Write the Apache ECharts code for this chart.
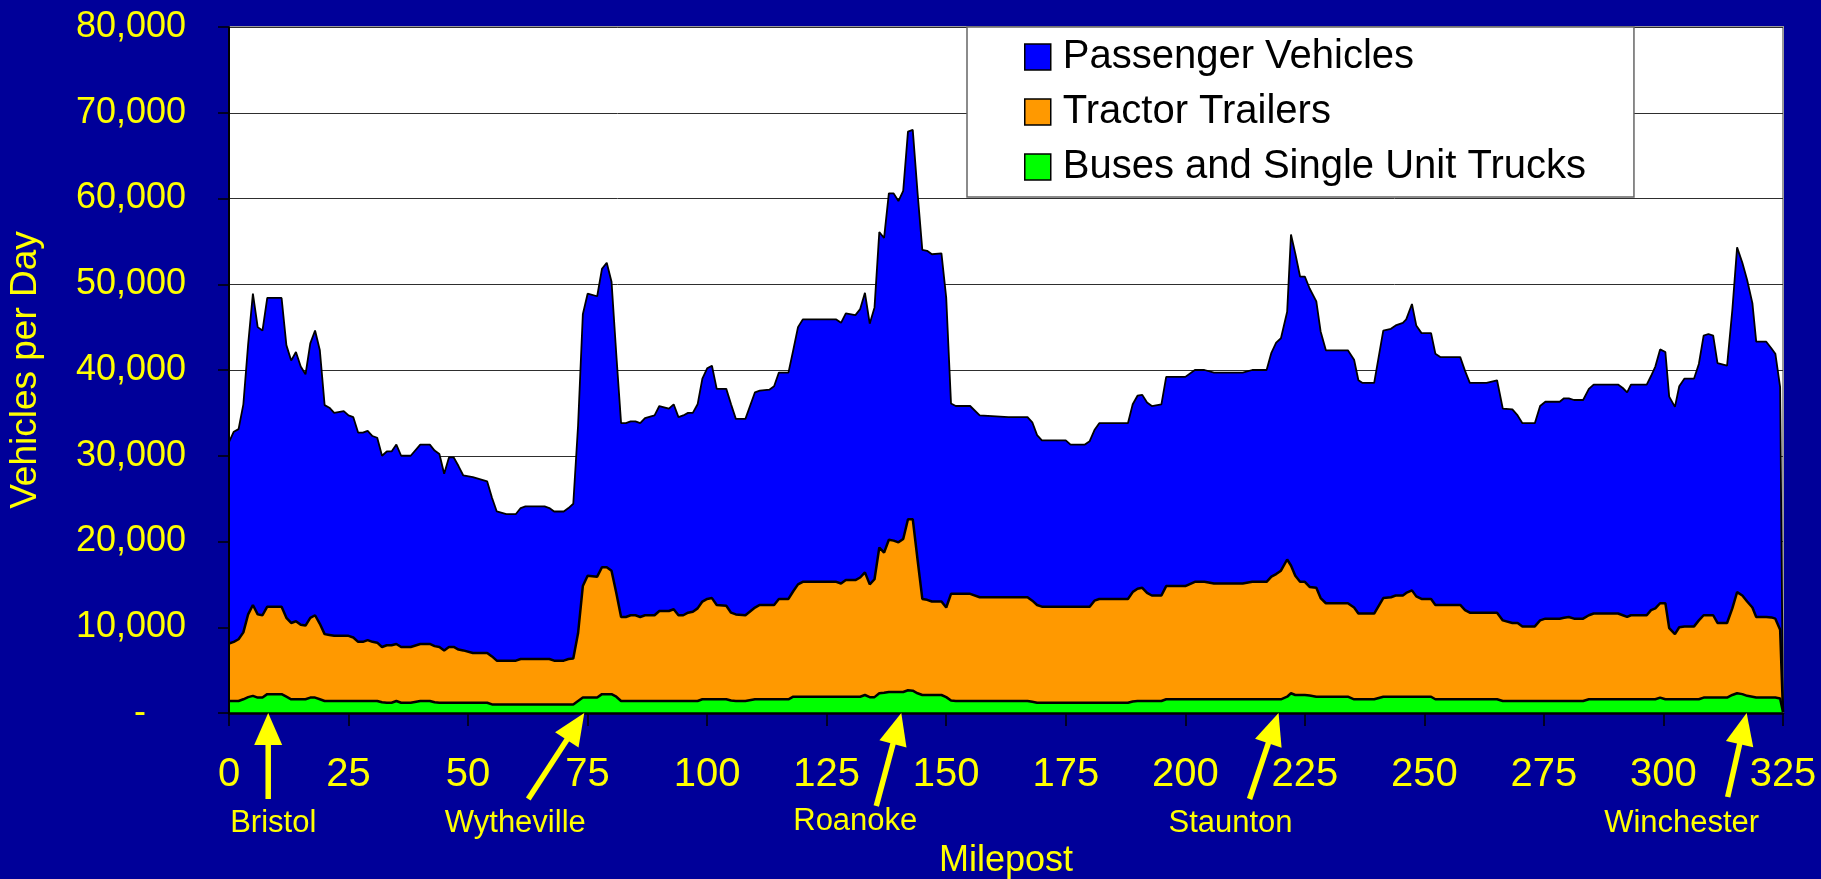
<!DOCTYPE html>
<html>
<head>
<meta charset="utf-8">
<script src="https://cdn.jsdelivr.net/npm/echarts/dist/echarts.min.js"></script>
<style>
html,body{margin:0;padding:0;background:#000099;}
#chart{width:1821px;height:879px;}
</style>
</head>
<body>
<div id="chart"></div>
<script>
// ---------------- DATA ----------------
const mileposts = [
  0,1,2,3,4,5,6,7,8,11,
  12,13,14,15,16,17,18,19,20,21,
  22,24,25,26,27,28,29,30,31,32,
  33,34,35,36,38,40,42,43,44,45,
  46,47,48,49,51,54,55,56,58,60,
  61,62,66,67,68,70,71,72,73,74,
  75,77,78,79,80,81,82,83,84,85,
  86,87,89,90,92,93,94,95,96,97,
  98,99,100,101,102,104,105,106,108,110,
  111,113,114,115,117,118,119,120,127,128,
  129,131,132,133,134,135,136,137,138,139,
  140,141,142,143,144,145,146,147,149,150,
  151,152,155,157,163,167,168,169,170,175,
  176,179,180,181,182,188,189,190,191,192,
  193,195,196,200,202,204,206,212,214,217,
  218,219,220,221.3,222.1,223,224,225,226,227.4,
  228.3,229.4,234,235.3,236.2,237,239.5,241.4,243,244,
  245.5,246.2,247.4,248.3,249.4,251.4,252.3,253.4,257.5,258.5,
  259.5,263,265.2,266.4,268.4,269.5,270.5,273.1,274.2,275.3,
  278.3,279.2,280.2,281.3,283.2,284.4,285.4,290.5,291.5,292.4,
  293.2,296.5,297.4,298.3,299.3,300.4,301.2,302.4,303.3,304.4,
  306.4,307.4,308.4,309.4,310.4,311.3,313.3,314.4,315.4,316.5,
  317.5,318.6,319.4,321.5,322.6,323.4,324.4,325
];

const passengerVehicles = [
  23500,24500,24500,26600,31500,36300,33500,33200,36000,36000,
  31800,30600,31400,30100,29300,32000,33200,31900,26700,26500,
  26000,26200,25700,25700,24400,24400,24400,24000,23900,22300,
  22600,22600,23250,22300,22300,23250,23250,22800,22500,20600,
  22100,22100,21400,20400,20500,20000,18500,17400,17100,17100,
  17600,17800,17800,17600,17400,17400,17600,18050,24200,31700,
  32900,32700,34800,35500,33700,27800,22600,22600,22600,22600,
  22600,23000,23300,23900,23600,23900,23100,23300,23300,23200,
  23800,26000,26900,27100,25200,25300,24300,22800,22900,25100,
  25000,25100,25500,26400,26400,28100,30000,30600,30600,30400,
  31100,30900,31300,32600,30400,31700,36800,36700,40400,40500,
  39800,40600,45200,45400,42800,40700,40700,40500,40600,36100,
  22200,21900,21900,21200,21000,21000,20800,19800,19400,19400,
  18900,18900,19300,19900,20500,20500,21900,22500,22500,22200,
  22100,22300,24400,24400,24700,24700,24600,24600,24700,24700,
  26100,27000,27100,28900,38600,37600,35600,35600,34800,33400,
  31100,29500,29500,28900,27200,26900,26900,31200,31300,31500,
  31800,31900,33400,31600,31000,31000,29300,28900,28900,27900,
  26800,26800,27100,24700,24900,24200,23700,23700,25000,25300,
  25300,25600,25500,25500,25500,26400,26700,26700,26500,26200,
  26900,26900,27300,28200,29600,29300,27000,26500,28100,28900,
  28900,29900,32600,32800,32600,30300,30000,34800,40200,38800,
  37500,35500,32100,32100,31350,30900,28300,50
];

const tractorTrailers = [
  6700,6900,7200,7800,9650,10600,9700,9600,10200,10200,
  9200,8900,9100,8700,8600,9300,9600,8800,7800,7700,
  7600,7600,7600,7400,6900,6900,7100,6900,6800,6450,
  6700,6700,6650,6500,6500,6650,6650,6550,6500,6100,
  6500,6500,6200,6100,5800,5800,5600,5100,5100,5100,
  5300,5300,5300,5300,5100,5100,5300,5350,7900,13000,
  14200,14100,14800,14800,14400,12100,9800,9800,10000,10000,
  9800,10000,10000,10500,10500,10700,10000,10000,10300,10400,
  10800,11400,11700,11800,11000,10900,10250,10100,10000,10700,
  11000,11000,11000,11700,11700,12300,13100,13400,13400,13200,
  13600,13600,13900,14300,13150,13750,17000,16350,17750,17650,
  17450,17850,19950,20000,15600,11200,11100,10900,10900,10450,
  12450,12500,12500,12100,12100,12100,11800,11400,11200,11200,
  11200,11200,11200,11900,12100,12100,12750,13100,13200,12600,
  12300,12300,13200,13200,13700,13700,13500,13500,13700,13700,
  14300,14600,15000,16000,14900,13900,13200,13200,12650,12700,
  11500,10900,10900,10700,10000,10000,10000,11500,11600,11800,
  11800,12100,12400,11700,11400,11400,11000,11000,11000,10400,
  10100,10100,10100,9400,9100,9100,8700,8700,9400,9600,
  9600,9700,9800,9600,9600,9800,10000,10000,9800,9600,
  9800,9800,10400,10600,11000,11200,8300,7600,8400,8500,
  8500,9200,9600,9600,9600,8700,8700,10100,11800,11500,
  11000,10400,9400,9400,9350,9200,8000,50
];

const busesSingleUnitTrucks = [
  1400,1400,1400,1600,1850,2000,1800,1800,2200,2200,
  1900,1600,1600,1600,1600,1800,1800,1600,1400,1400,
  1400,1400,1400,1400,1400,1400,1400,1400,1400,1250,
  1200,1200,1400,1200,1200,1400,1400,1250,1200,1200,
  1200,1200,1200,1200,1200,1200,1000,1000,1000,1000,
  1000,1000,1000,1000,1000,1000,1000,1000,1400,1800,
  1800,1800,2200,2200,2200,1900,1400,1400,1400,1400,
  1400,1400,1400,1400,1400,1400,1400,1400,1400,1400,
  1400,1600,1600,1600,1600,1600,1450,1400,1400,1600,
  1600,1600,1600,1600,1600,1900,1900,1900,1900,1900,
  1900,1900,1900,2100,1850,1850,2300,2350,2450,2450,
  2450,2450,2650,2600,2300,2100,2100,2100,2100,1850,
  1450,1400,1400,1400,1400,1400,1300,1200,1200,1200,
  1200,1200,1200,1200,1200,1200,1350,1400,1400,1400,
  1400,1400,1600,1600,1600,1600,1600,1600,1600,1600,
  1600,1600,1600,1900,2300,2100,2100,2100,2050,1900,
  1900,1900,1900,1600,1600,1600,1600,1900,1900,1900,
  1900,1900,1900,1900,1900,1900,1600,1600,1600,1600,
  1600,1600,1600,1400,1400,1400,1400,1400,1400,1400,
  1400,1400,1400,1400,1400,1600,1600,1600,1600,1600,
  1600,1600,1600,1600,1800,1600,1600,1600,1600,1600,
  1600,1600,1800,1800,1800,1800,1800,2100,2300,2200,
  2000,1900,1800,1800,1800,1800,1700,100
];

const seriesNames = ['Passenger Vehicles', 'Tractor Trailers', 'Buses and Single Unit Trucks'];
const yTickLabels = ['-', '10,000', '20,000', '30,000', '40,000', '50,000', '60,000', '70,000', '80,000'];
const xTickLabels = ['0','25','50','75','100','125','150','175','200','225','250','275','300','325'];
const cityNames = ['Bristol', 'Wytheville', 'Roanoke', 'Staunton', 'Winchester'];
const cityMileposts = [8.2, 74.3, 140.6, 219.5, 317.4];

// ---------------- STYLE / LAYOUT ----------------
const FONT = '"Liberation Sans", Arial, Helvetica, sans-serif';
const YELLOW = '#FFFF00';
const colors = { passenger: '#0000FF', tractor: '#FF9900', buses: '#00FF00' };
// annotation layout (pixels, relative to the arrow tip on the axis)
const arrowTailDx = [0, -56, -25, -29, -19];
const arrowTailDy = [86, 86, 93, 86, 84];
const labelDx = [5, -69, -46, -48, -65];
const labelTopDy = [95, 95, 93, 95, 95];

// rows: [vehicles, milepost]  (vehicles first so the stack is applied to the value axis)
function rows(vals) { return mileposts.map((m, i) => [vals[i], m]); }

const chart = echarts.init(document.getElementById('chart'), null, { renderer: 'canvas' });

const common = {
  type: 'line', stack: 'traffic', symbol: 'none', showSymbol: false, smooth: false,
  dimensions: ['vehicles', 'milepost'], encode: { x: 'milepost', y: 'vehicles' },
  emphasis: { disabled: true },
  silent: true, animation: false, yAxisIndex: 0, xAxisIndex: 0
};

chart.setOption({
  backgroundColor: '#000099',
  animation: false,
  textStyle: { fontFamily: FONT },
  grid: { left: 229, right: 38, top: 27, bottom: 166, show: true,
          backgroundColor: '#FFFFFF', borderColor: '#9a9a9a', borderWidth: 2,
          outerBoundsMode: 'none', containLabel: false },
  legend: {
    orient: 'vertical', left: 967, top: 27,
    itemWidth: 26, itemHeight: 26, itemGap: 15,
    padding: [10, 48, 10, 57],
    backgroundColor: '#FFFFFF', borderColor: '#666', borderWidth: 1.5,
    selectedMode: false, icon: 'rect',
    textStyle: { color: '#000', fontSize: 40, fontFamily: FONT, lineHeight: 40, padding: [0, 0, 0, 7] },
    data: [
      { name: seriesNames[0], itemStyle: { color: colors.passenger, borderColor: '#000', borderWidth: 1.5 } },
      { name: seriesNames[1], itemStyle: { color: colors.tractor, borderColor: '#000', borderWidth: 1.5 } },
      { name: seriesNames[2], itemStyle: { color: colors.buses, borderColor: '#000', borderWidth: 1.5 } }
    ]
  },
  xAxis: {
    type: 'value', min: 0, max: 325, interval: 25, z: 5,
    axisLine: { show: true, onZero: false, lineStyle: { color: '#000', width: 2.5 } },
    axisTick: { show: true, length: 13, lineStyle: { color: '#000', width: 1.5 } },
    axisLabel: { color: YELLOW, fontSize: 40, margin: 42, fontFamily: FONT,
                 formatter: v => xTickLabels[Math.round(v / 25)] },
    splitLine: { show: false },
    name: 'Milepost', nameLocation: 'middle', nameGap: 130, nameMoveOverlap: false,
    nameTextStyle: { color: YELLOW, fontSize: 36, fontFamily: FONT }
  },
  yAxis: [
    {
      type: 'value', min: 0, max: 80000, interval: 10000, z: 5, position: 'left',
      axisLine: { show: true, onZero: false, lineStyle: { color: '#000', width: 2 } },
      axisTick: { show: true, length: 11, lineStyle: { color: '#000', width: 1.5 } },
      axisLabel: {
        color: YELLOW, fontSize: 36, margin: 43, fontFamily: FONT,
        formatter: v => { const i = Math.round(v / 10000); return i === 0 ? '{dash|' + yTickLabels[0] + '}' : yTickLabels[i]; },
        rich: { dash: { color: YELLOW, fontSize: 36, fontFamily: FONT, padding: [0, 40, 0, 0] } }
      },
      splitLine: { show: false },
      name: 'Vehicles per Day', nameLocation: 'middle', nameGap: 185, nameMoveOverlap: false,
      nameTextStyle: { color: YELLOW, fontSize: 37, fontFamily: FONT }
    },
    {
      type: 'value', min: 0, max: 80000, interval: 10000, position: 'right', z: 0,
      axisLine: { show: false }, axisTick: { show: false }, axisLabel: { show: false },
      splitLine: { show: true, lineStyle: { color: '#2e2e2e', width: 1 } }
    }
  ],
  series: [
    Object.assign({}, common, { name: seriesNames[2], data: rows(busesSingleUnitTrucks), z: 4,
      lineStyle: { color: '#000', width: 2.5 },
      itemStyle: { color: colors.buses }, areaStyle: { color: colors.buses, opacity: 1 } }),
    Object.assign({}, common, { name: seriesNames[1], data: rows(tractorTrailers), z: 3,
      lineStyle: { color: '#000', width: 2.5 },
      itemStyle: { color: colors.tractor }, areaStyle: { color: colors.tractor, opacity: 1 } }),
    Object.assign({}, common, { name: seriesNames[0], data: rows(passengerVehicles), z: 2,
      lineStyle: { color: '#000', width: 1.8 },
      itemStyle: { color: colors.passenger }, areaStyle: { color: colors.passenger, opacity: 1 } })
  ]
});

// ---------------- CITY ARROWS (positioned from milepost via the axis scale) ----------------
const graphics = [];
cityMileposts.forEach((m, i) => {
  const tip = chart.convertToPixel({ xAxisIndex: 0, yAxisIndex: 0 }, [m, 0]);
  const tx = tip[0], ty = tip[1];
  const ex = tx + arrowTailDx[i], ey = ty + arrowTailDy[i];
  let dx = ex - tx, dy = ey - ty;
  const len = Math.sqrt(dx * dx + dy * dy); dx /= len; dy /= len;
  const headLen = 32, headHalf = 14;
  const bx = tx + dx * headLen, by = ty + dy * headLen;
  const px = -dy, py = dx;
  graphics.push({
    type: 'line', silent: true, z: 10,
    shape: { x1: bx - dx * 2, y1: by - dy * 2, x2: ex, y2: ey },
    style: { stroke: YELLOW, lineWidth: 5.5 }
  });
  graphics.push({
    type: 'polygon', silent: true, z: 10,
    shape: { points: [[tx, ty], [bx + px * headHalf, by + py * headHalf], [bx - px * headHalf, by - py * headHalf]] },
    style: { fill: YELLOW }
  });
  graphics.push({
    type: 'text', silent: true, z: 10,
    x: tx + labelDx[i], y: ty + labelTopDy[i],
    style: { text: cityNames[i], fill: YELLOW, font: '31px ' + FONT,
             align: 'center', verticalAlign: 'top', textAlign: 'center', textVerticalAlign: 'top' }
  });
});
chart.setOption({ graphic: graphics });
</script>
</body>
</html>
